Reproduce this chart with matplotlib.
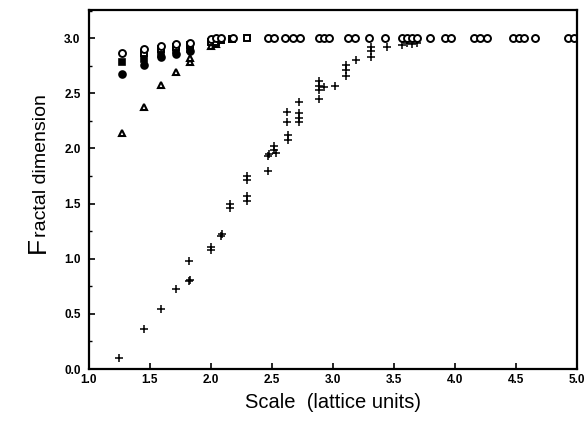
import numpy as np
import matplotlib
matplotlib.use('Agg')
import matplotlib.pyplot as plt
from matplotlib.ticker import MultipleLocator

plt.rcParams['font.family'] = ['Liberation Sans', 'DejaVu Sans']

# Circulos abiertos
circ_x = [1.27, 1.45, 1.59, 1.71, 1.83, 2.00, 2.04, 2.08, 2.18, 2.47, 2.52, 2.61, 2.67,
          2.73, 2.89, 2.93, 2.97, 3.12, 3.18, 3.30, 3.43, 3.57, 3.61, 3.65, 3.69, 3.80,
          3.92, 3.97, 4.16, 4.21, 4.26, 4.48, 4.53, 4.57, 4.66, 4.93, 4.98]
circ_y = [2.87, 2.90, 2.93, 2.95, 2.96, 2.99, 3.00, 3.00, 3.00, 3.00, 3.00, 3.00, 3.00,
          3.00, 3.00, 3.00, 3.00, 3.00, 3.00, 3.00, 3.00, 3.00, 3.00, 3.00, 3.00, 3.00,
          3.00, 3.00, 3.00, 3.00, 3.00, 3.00, 3.00, 3.00, 3.00, 3.00, 3.00]

# Cuadrados abiertos
sq_x = [1.45, 1.59, 1.71, 1.83, 2.00, 2.04, 2.08, 2.17, 2.30]
sq_y = [2.87, 2.90, 2.92, 2.94, 2.97, 2.97, 2.98, 2.99, 3.00]

# Cuadrados rellenos
fsq_x = [1.27, 1.45, 1.59, 1.71, 1.83]
fsq_y = [2.78, 2.81, 2.86, 2.89, 2.90]

# Circulos rellenos
fcirc_x = [1.27, 1.45, 1.59, 1.71, 1.83]
fcirc_y = [2.68, 2.76, 2.83, 2.86, 2.88]

# Triangulos
tri_x = [1.27, 1.45, 1.59, 1.71, 1.83, 1.83, 2.00, 2.04]
tri_y = [2.14, 2.38, 2.58, 2.69, 2.78, 2.82, 2.93, 2.95]

# Cruces
cross_x = [1.25, 1.45, 1.59, 1.71, 1.82, 1.82, 1.83, 2.00, 2.00, 2.08, 2.09, 2.16, 2.16,
           2.30, 2.30, 2.30, 2.30, 2.47, 2.47, 2.48, 2.52, 2.52, 2.53, 2.63, 2.63, 2.62,
           2.62, 2.72, 2.72, 2.72, 2.72, 2.89, 2.89, 2.89, 2.89, 2.93, 3.02, 3.11, 3.11,
           3.11, 3.19, 3.31, 3.31, 3.31, 3.44, 3.57, 3.61, 3.65, 3.69]
cross_y = [0.10, 0.36, 0.54, 0.73, 0.98, 0.80, 0.81, 1.11, 1.08, 1.21, 1.22, 1.50, 1.46,
           1.75, 1.71, 1.57, 1.52, 1.80, 1.93, 1.95, 2.02, 1.99, 1.96, 2.12, 2.08, 2.24,
           2.33, 2.42, 2.32, 2.28, 2.24, 2.61, 2.57, 2.53, 2.45, 2.56, 2.57, 2.76, 2.71,
           2.66, 2.80, 2.92, 2.88, 2.83, 2.92, 2.94, 2.96, 2.95, 2.96]

fig = plt.figure(figsize=(5.85, 4.21), dpi=100)
ax = fig.add_axes([0.152, 0.1235, 0.834, 0.8525])

mk = dict(linestyle='none', markeredgecolor='black')
ax.plot(cross_x, cross_y, marker='+', markersize=5.5, markeredgewidth=1.1, **mk)
ax.plot(tri_x, tri_y, marker='^', markersize=5, markerfacecolor='white', markeredgewidth=1.5, **mk)
ax.plot(fcirc_x, fcirc_y, marker='o', markersize=5, markerfacecolor='black', markeredgewidth=1.2, **mk)
ax.plot(fsq_x, fsq_y, marker='s', markersize=4.5, markerfacecolor='black', markeredgewidth=1.2, **mk)
ax.plot(sq_x, sq_y, marker='s', markersize=4.5, markerfacecolor='white', markeredgewidth=1.4, **mk)
ax.plot(circ_x, circ_y, marker='o', markersize=5, markerfacecolor='white', markeredgewidth=1.4, **mk)

ax.set_xlim(1.0, 5.0)
ax.set_ylim(0.0, 3.255)
ax.xaxis.set_major_locator(MultipleLocator(0.5))
ax.yaxis.set_major_locator(MultipleLocator(0.5))
ax.yaxis.set_minor_locator(MultipleLocator(0.25))
ax.tick_params(which='both', direction='in', labelsize=8.5)
ax.tick_params(which='major', length=4, width=1.2)
ax.tick_params(which='minor', length=2.5, width=1)
ax.tick_params(axis='y', which='major', pad=6)
for lab in ax.get_xticklabels() + ax.get_yticklabels():
    lab.set_fontweight('bold')
for s in ax.spines.values():
    s.set_linewidth(1.6)

ax.set_xlabel('Scale  (lattice units)', fontsize=14.5, labelpad=5)

# Etiqueta del eje y: la "F" inicial es mas grande que el resto
f_txt = fig.text(0.085, 0.398, 'F', rotation=90, fontsize=19,
                 ha='right', va='bottom')
ax.annotate('ractal dimension', xy=(1, 1), xycoords=f_txt, rotation=90,
            fontsize=14, ha='right', va='bottom', annotation_clip=False)

fig.savefig('out.png', dpi=100)
